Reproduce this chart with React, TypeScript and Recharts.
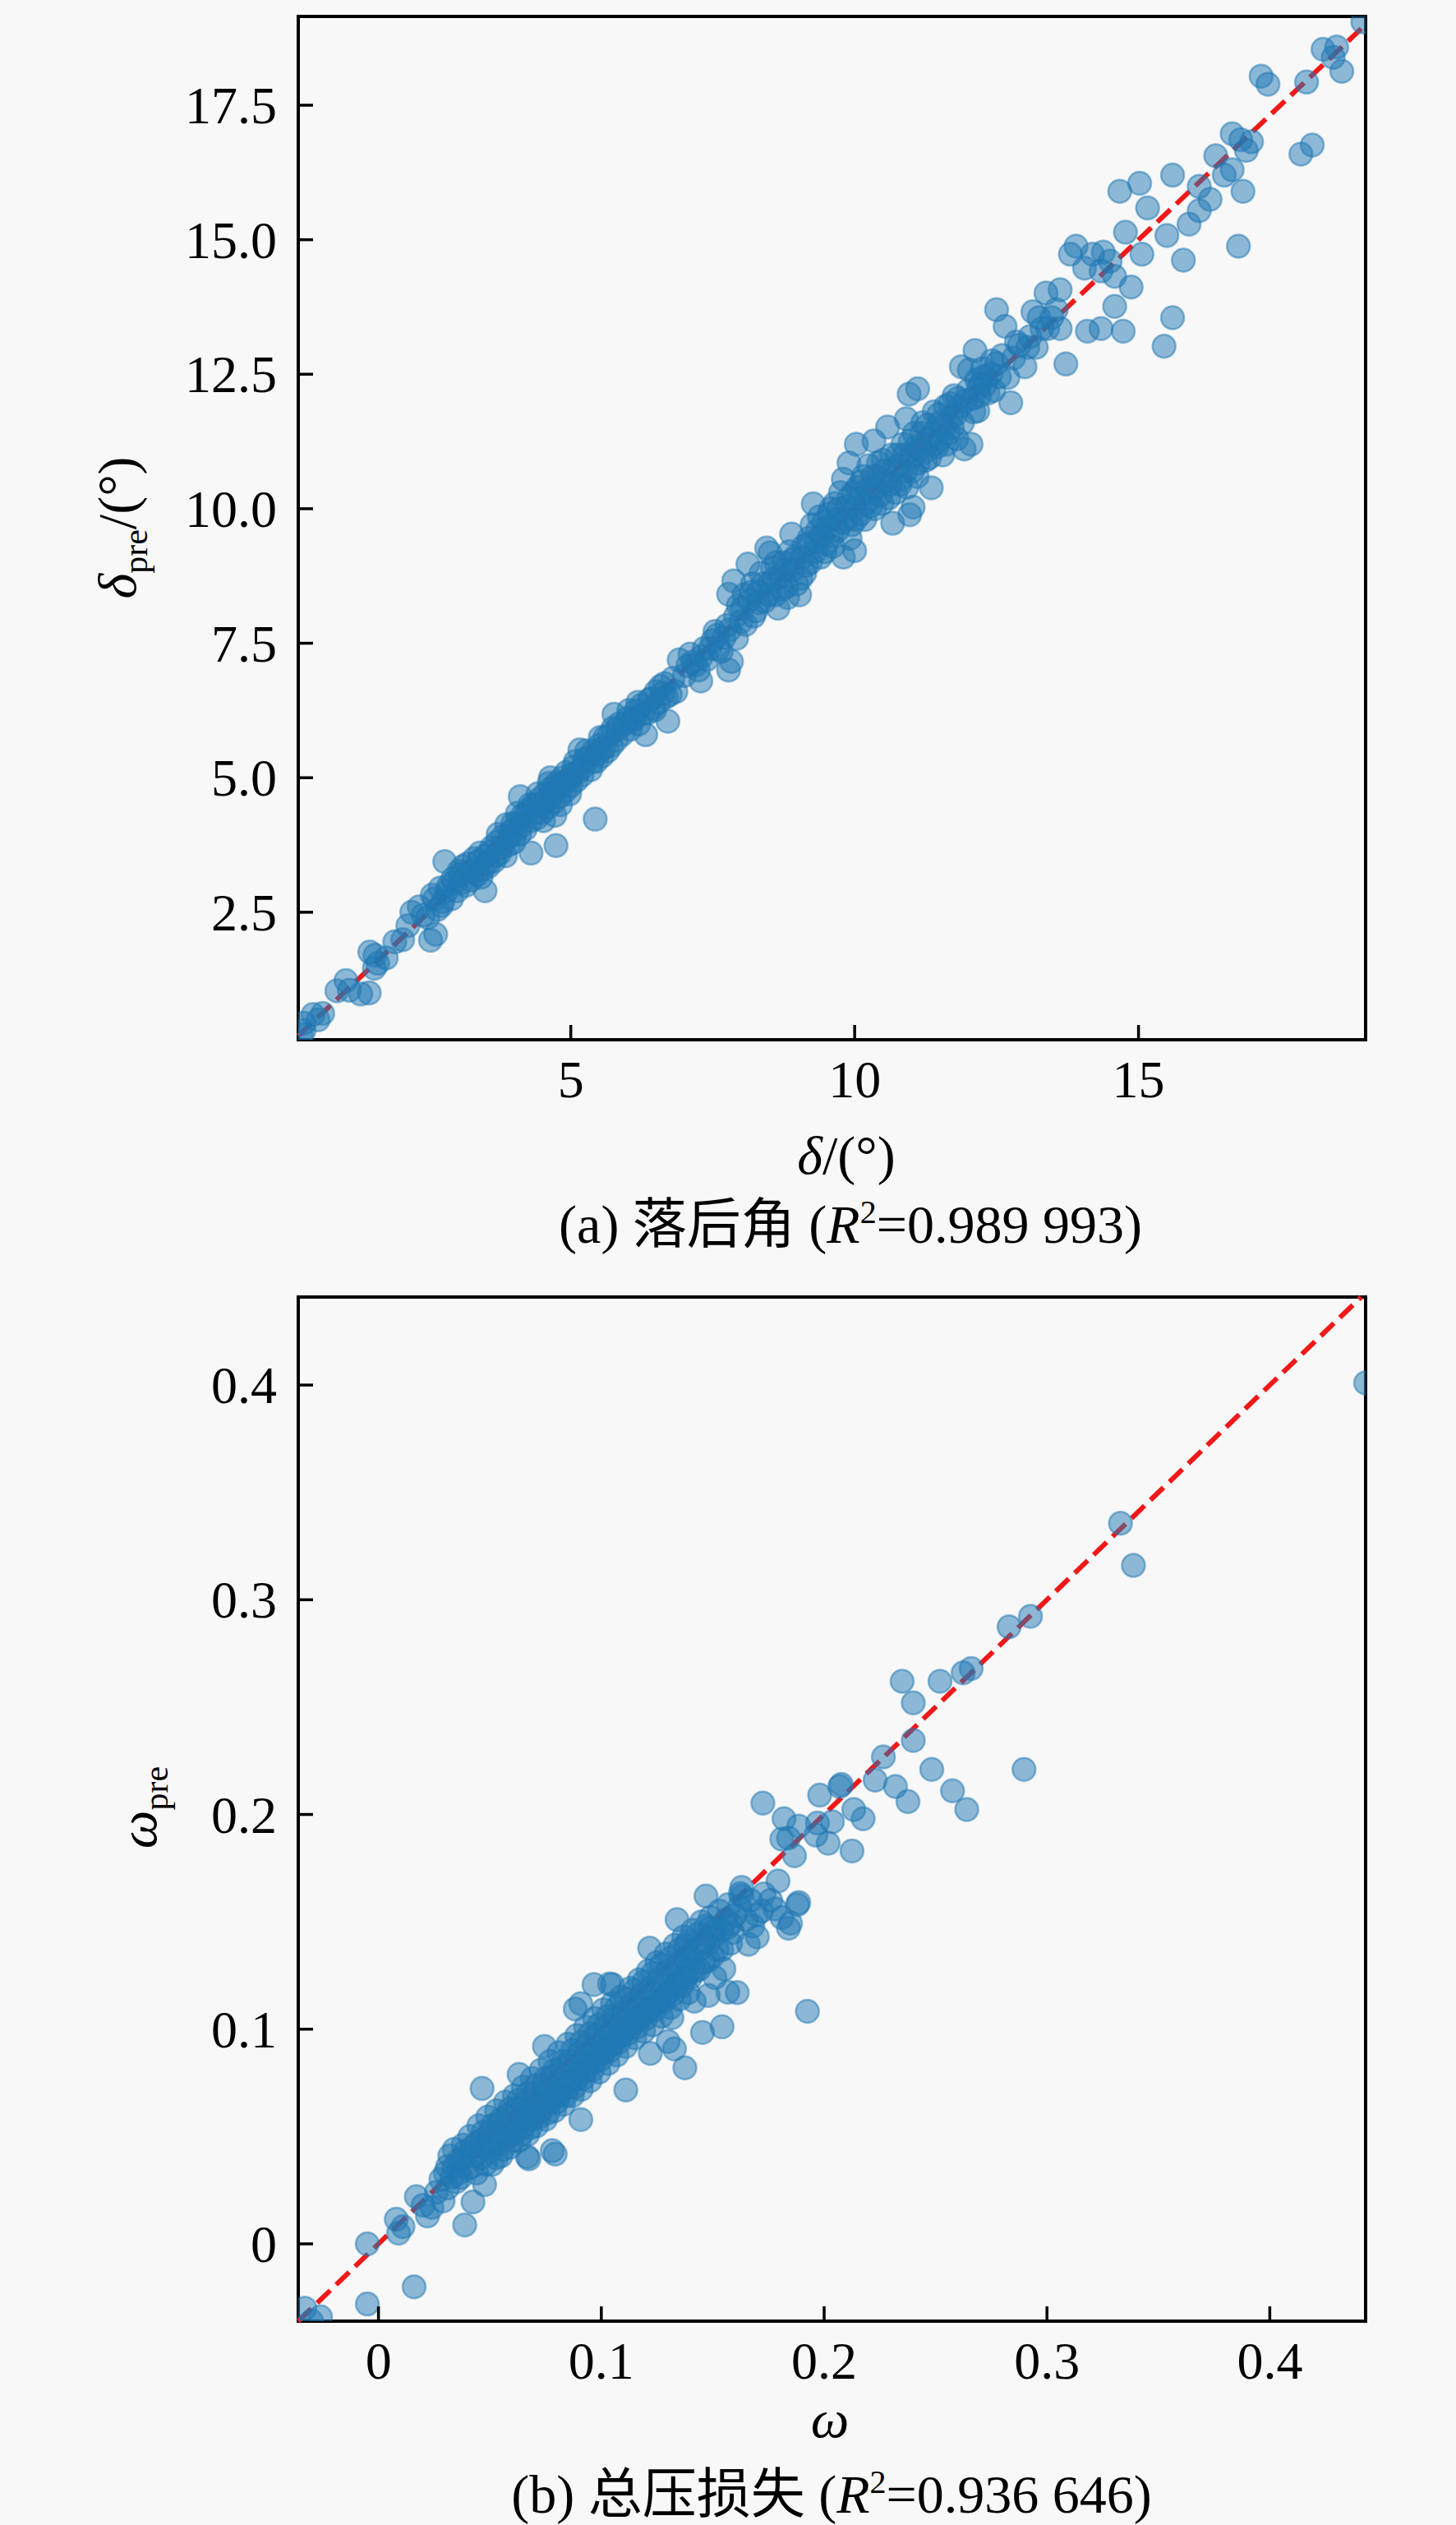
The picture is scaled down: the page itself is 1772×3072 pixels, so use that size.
import React from "react";
import { ScatterChart, Scatter, XAxis, YAxis, ReferenceLine, ReferenceArea, Label } from "recharts";

const FONT = '"Liberation Serif", "Noto Sans CJK SC", serif';
const BLUE = "#1f77b4";
const RED = "#f01818";

// (a) deviation angle: [measured δ, predicted δ_pre]
const deltaLow = [
  [0.25, 0.22], [0.3, 0.3], [0.3, 0.44], [0.46, 0.6], [0.55, 0.5], [0.63, 0.62], [0.88, 1.04], [1.04, 1.23],
  [1.1, 1.05], [1.3, 0.98], [1.45, 1.0], [1.46, 1.76], [1.55, 1.7], [1.54, 1.46], [1.6, 1.55], [1.75, 1.65],
  [1.9, 1.95], [2.04, 1.99], [2.13, 2.25], [2.2, 2.5], [2.33, 2.6], [2.48, 2.4], [2.53, 1.98], [2.62, 2.09],
  [2.4, 2.45], [2.56, 2.82], [2.65, 2.55], [2.7, 2.95], [2.75, 2.7], [2.78, 3.44], [2.85, 3.0], [2.9, 2.75],
  [2.95, 3.05], [3.0, 2.9], [3.03, 3.26], [3.05, 3.2], [3.1, 3.35], [3.15, 3.0], [3.2, 3.25], [3.25, 3.1],
  [3.3, 3.5], [3.35, 3.2], [3.4, 3.6], [3.45, 3.3], [3.49, 2.9], [3.5, 3.55], [3.55, 3.35], [3.6, 3.7],
  [3.65, 3.45], [3.7, 3.8], [3.75, 3.6], [3.8, 3.9], [3.85, 3.55], [3.87, 4.13], [3.9, 3.75], [3.95, 4.0],
  [4.0, 3.8], [4.05, 4.15], [4.06, 4.34], [4.1, 3.95], [4.11, 4.65], [4.15, 4.3], [4.2, 4.05], [4.25, 4.4],
  [4.3, 3.6], [4.3, 4.2], [4.35, 4.5], [4.4, 4.25], [4.45, 4.6], [4.5, 4.35], [4.55, 4.7], [4.6, 4.45],
  [4.64, 5.0], [4.65, 4.8], [4.7, 4.55], [4.74, 3.74], [4.75, 4.9], [4.8, 4.65], [4.85, 5.0], [4.9, 4.75],
  [4.95, 4.95],
  [2.6, 2.75], [2.72, 2.62], [2.82, 2.9], [2.92, 3.12], [3.08, 3.05], [3.18, 3.4], [3.28, 3.25], [3.38, 3.45],
  [3.42, 3.15], [3.52, 3.4], [3.58, 3.62], [3.68, 3.55], [3.72, 3.95], [3.78, 3.7], [3.92, 3.9], [3.98, 4.15],
  [4.02, 3.95], [4.12, 4.1], [4.22, 4.35], [4.28, 4.5], [4.38, 4.35], [4.42, 4.7], [4.48, 4.5], [4.52, 4.2],
  [4.58, 4.6], [4.62, 4.9], [4.68, 4.7], [4.72, 4.3], [4.78, 4.85], [4.82, 4.5], [4.88, 4.9], [4.92, 5.1],
  [4.98, 4.7],
];

const deltaMid = [
  [5.0, 4.85], [5.05, 5.2], [5.1, 4.95], [5.16, 5.52], [5.2, 5.05], [5.25, 5.35], [5.31, 5.37], [5.35, 5.15],
  [5.4, 5.5], [5.43, 4.23], [5.45, 5.3], [5.5, 5.6], [5.55, 5.4], [5.6, 5.75], [5.65, 5.5], [5.74, 5.92],
  [5.76, 6.18], [5.8, 5.7], [5.85, 6.0], [5.9, 5.8], [6.0, 6.1], [6.05, 5.9], [6.09, 6.07], [6.15, 6.25],
  [6.2, 6.0], [6.25, 6.35], [6.32, 5.8], [6.35, 6.2], [6.42, 6.47], [6.48, 6.26], [6.5, 6.6], [6.55, 6.4],
  [6.62, 6.57], [6.65, 6.75], [6.71, 6.05], [6.75, 6.55], [6.91, 7.19], [7.0, 6.9], [7.06, 7.08], [7.1, 7.3],
  [7.2, 7.1], [7.25, 7.0], [7.29, 6.8], [7.35, 7.4], [7.4, 7.2], [7.5, 7.55], [7.54, 7.72], [7.6, 7.4],
  [7.7, 7.6], [7.75, 7.83], [7.78, 7.0], [7.83, 7.16], [7.92, 7.59], [7.78, 8.41], [7.87, 8.66], [7.95, 8.2],
  [8.0, 7.9], [8.05, 8.4], [8.12, 8.97], [8.15, 8.3], [8.2, 8.6], [8.26, 8.1], [8.3, 8.45], [8.35, 8.8],
  [8.41, 8.28], [8.45, 9.27], [8.5, 8.6], [8.51, 9.18], [8.55, 8.9], [8.6, 8.4], [8.65, 8.15], [8.7, 8.75],
  [8.75, 9.0], [8.8, 8.55], [8.85, 9.2], [8.89, 9.53], [8.9, 8.85], [8.95, 9.1], [9.03, 8.4], [9.05, 8.7],
  [9.1, 9.3], [9.15, 8.95], [9.2, 9.45], [9.27, 10.09], [9.3, 9.2], [9.35, 9.6], [9.4, 9.1], [9.45, 9.75],
  [9.5, 9.35],
  [5.02, 5.05], [5.08, 5.3], [5.12, 5.1], [5.22, 5.2], [5.28, 5.5], [5.38, 5.3], [5.48, 5.45], [5.52, 5.75],
  [5.58, 5.55], [5.68, 5.8], [5.72, 5.6], [5.82, 5.9], [5.95, 6.0], [6.02, 6.25], [6.12, 6.1], [6.18, 6.4],
  [6.28, 6.2], [6.38, 6.45], [6.45, 6.3], [6.58, 6.7], [6.68, 6.5], [6.8, 6.85], [6.85, 6.6],
  [7.15, 7.15], [7.3, 7.25], [7.45, 7.4], [7.58, 7.65], [7.65, 7.35], [7.8, 7.75], [7.9, 8.0], [8.02, 8.15],
  [8.08, 7.85], [8.18, 8.45], [8.22, 8.0], [8.32, 8.25], [8.38, 8.6], [8.48, 8.4], [8.58, 8.7], [8.62, 9.0],
  [8.72, 8.5], [8.78, 8.85], [8.82, 8.35], [8.92, 9.05], [8.98, 8.6], [9.08, 9.1], [9.12, 8.8], [9.18, 9.35],
  [9.22, 9.0], [9.25, 9.7], [9.32, 9.4], [9.38, 9.85], [9.42, 9.5], [9.48, 9.2],
];

const deltaHigh = [
  [9.55, 9.9], [9.6, 9.5], [9.65, 10.1], [9.7, 9.6], [9.75, 10.3], [9.8, 9.1], [9.8, 10.55], [9.85, 9.8],
  [9.9, 10.85], [9.9, 10.2], [9.95, 9.7], [10.0, 10.0], [10.0, 9.22], [10.03, 11.2], [10.05, 10.4], [10.1, 9.9],
  [10.15, 10.6], [10.2, 10.1], [10.25, 10.8], [10.3, 10.3], [10.34, 11.26], [10.35, 10.0], [10.4, 10.6],
  [10.45, 10.25], [10.5, 10.9], [10.55, 10.5], [10.58, 11.52], [10.6, 10.2], [10.67, 9.73], [10.7, 10.75],
  [10.75, 11.0], [10.8, 10.45], [10.85, 11.2], [10.9, 10.7], [10.91, 11.67], [10.96, 12.13], [10.97, 9.89],
  [11.0, 10.95], [11.03, 10.03], [11.05, 11.4], [11.1, 10.6], [11.11, 12.23], [11.15, 11.1], [11.2, 11.6],
  [11.25, 10.9], [11.3, 11.3], [11.35, 10.39], [11.4, 11.8], [11.45, 11.15], [11.5, 11.6], [11.55, 11.0],
  [11.6, 11.9], [11.65, 11.4], [11.7, 11.7], [11.75, 12.1], [11.8, 11.3], [11.85, 11.9], [11.88, 12.64],
  [11.93, 11.11], [12.0, 12.2], [12.02, 12.58], [12.05, 11.2], [12.1, 11.8], [12.12, 12.94], [12.15, 12.4],
  [12.17, 11.82], [12.2, 12.1], [12.22, 12.33], [12.25, 12.6], [12.3, 12.3], [12.4, 12.5], [12.45, 12.2],
  [12.5, 12.7],
  [9.52, 9.65], [9.58, 10.0], [9.62, 9.3], [9.68, 9.8], [9.72, 10.0], [9.78, 9.75], [9.88, 10.05], [9.92, 9.45],
  [9.98, 10.3], [10.02, 9.8], [10.08, 10.2], [10.12, 10.5], [10.18, 9.8], [10.22, 10.35], [10.28, 10.05],
  [10.32, 10.6], [10.38, 10.4], [10.42, 10.85], [10.48, 10.1], [10.52, 10.7], [10.62, 10.45], [10.65, 11.0],
  [10.72, 10.3], [10.78, 10.8], [10.82, 10.55], [10.88, 11.0], [10.92, 10.4], [10.98, 11.25], [11.02, 10.7],
  [11.08, 11.15], [11.12, 10.85], [11.18, 11.4], [11.22, 11.05], [11.28, 11.55], [11.32, 10.95], [11.38, 11.4],
  [11.42, 11.2], [11.48, 11.75], [11.52, 11.3], [11.58, 11.55], [11.62, 11.2], [11.68, 11.95], [11.72, 11.5],
  [11.78, 11.75], [11.82, 12.05], [11.9, 11.6], [11.95, 12.0], [12.08, 12.05], [12.18, 12.25], [12.28, 12.45],
  [12.35, 12.15], [12.42, 12.75], [12.55, 12.45], [12.6, 12.85], [12.8, 12.8], [12.85, 13.1], [13.05, 13.0],
  [13.25, 13.55], [13.4, 13.35], [13.55, 13.7],
];

const deltaTop = [
  [12.5, 13.7], [12.65, 13.39], [12.7, 12.44], [12.75, 11.97], [12.9, 13.04], [13.0, 12.64], [13.09, 13.2],
  [13.14, 13.66], [13.2, 13.0], [13.3, 13.35], [13.37, 14.01], [13.47, 13.55], [13.62, 14.07], [13.62, 13.35],
  [13.72, 12.69], [13.8, 14.73], [13.9, 14.88], [14.05, 14.47], [14.1, 13.3], [14.19, 14.73], [14.34, 14.42],
  [14.34, 13.35], [14.38, 14.77], [14.5, 14.6], [14.58, 14.32], [14.58, 13.76], [14.67, 15.9], [14.73, 13.3],
  [14.77, 15.14], [14.87, 14.12], [15.02, 16.05], [15.06, 14.73], [15.16, 15.59], [15.45, 13.02], [15.5, 15.08],
  [15.6, 16.2], [15.6, 13.55], [15.79, 14.62], [15.89, 15.29], [16.07, 15.99], [16.07, 15.54], [16.26, 15.75],
  [16.36, 16.56], [16.51, 16.2], [16.65, 16.3], [16.65, 16.97], [16.76, 14.88], [16.8, 16.86], [16.84, 15.9],
  [16.9, 16.66], [16.99, 16.82], [17.16, 18.04], [17.28, 17.89], [17.86, 16.59], [17.96, 17.93], [18.06, 16.76],
  [18.25, 18.54], [18.43, 18.39], [18.49, 18.58], [18.58, 18.13], [18.95, 19.05],
];

// (b) total pressure loss: [measured ω, predicted ω_pre]
const omegaLow = [
  [-0.033, -0.03], [-0.026, -0.034], [-0.03, -0.036], [-0.005, -0.028], [0.016, -0.02], [-0.005, 0.0],
  [0.008, 0.0115], [0.011, 0.008], [0.009, 0.005], [0.017, 0.022], [0.022, 0.013], [0.024, 0.017],
  [0.02, 0.018], [0.026, 0.024], [0.028, 0.03], [0.029, 0.02],
];

const omegaCore = [
  [0.03, 0.033], [0.031, 0.026], [0.032, 0.041], [0.034, 0.036], [0.035, 0.029], [0.034, 0.044],
  [0.038, 0.04], [0.037, 0.031], [0.0387, 0.0088], [0.038, 0.046], [0.042, 0.045], [0.042, 0.036],
  [0.0424, 0.0195], [0.041, 0.05], [0.046, 0.048], [0.046, 0.04], [0.0465, 0.0724], [0.0476, 0.0276],
  [0.045, 0.055], [0.05, 0.052], [0.05, 0.043], [0.049, 0.059], [0.051, 0.037], [0.054, 0.056],
  [0.054, 0.047], [0.053, 0.062], [0.055, 0.041], [0.058, 0.06], [0.058, 0.05], [0.057, 0.066],
  [0.059, 0.045], [0.062, 0.063], [0.062, 0.054], [0.0631, 0.0789], [0.063, 0.048], [0.061, 0.069],
  [0.066, 0.066], [0.066, 0.058], [0.0668, 0.0406], [0.067, 0.051], [0.065, 0.073], [0.07, 0.07],
  [0.07, 0.061], [0.069, 0.077], [0.071, 0.055], [0.0675, 0.0396], [0.074, 0.074], [0.074, 0.065],
  [0.0745, 0.092], [0.075, 0.058], [0.073, 0.081], [0.078, 0.078], [0.078, 0.068], [0.078, 0.0434],
  [0.0793, 0.0418], [0.077, 0.085], [0.079, 0.062], [0.082, 0.082], [0.082, 0.072], [0.081, 0.089],
  [0.083, 0.065], [0.0883, 0.1094], [0.086, 0.085], [0.086, 0.076], [0.085, 0.093], [0.087, 0.069],
  [0.09, 0.089], [0.09, 0.08], [0.0908, 0.1119], [0.0908, 0.0579], [0.091, 0.072], [0.089, 0.097],
  [0.094, 0.093], [0.094, 0.084], [0.093, 0.101], [0.095, 0.076], [0.0967, 0.1208], [0.098, 0.097],
  [0.098, 0.088], [0.097, 0.105], [0.099, 0.08], [0.102, 0.101], [0.102, 0.091], [0.1037, 0.1211],
  [0.101, 0.109], [0.103, 0.084], [0.105, 0.1208], [0.106, 0.105], [0.106, 0.095], [0.107, 0.088],
  [0.105, 0.112], [0.11, 0.108], [0.11, 0.099], [0.111, 0.0717], [0.109, 0.115], [0.111, 0.092],
  [0.114, 0.112], [0.114, 0.103], [0.113, 0.119], [0.115, 0.096], [0.118, 0.116], [0.118, 0.106],
  [0.117, 0.123], [0.119, 0.099], [0.1217, 0.1377], [0.122, 0.0887], [0.122, 0.119], [0.122, 0.11],
  [0.121, 0.127], [0.123, 0.102], [0.126, 0.123], [0.126, 0.113], [0.125, 0.131], [0.127, 0.106],
  [0.13, 0.0943], [0.13, 0.127], [0.13, 0.117], [0.129, 0.135], [0.131, 0.11], [0.134, 0.151],
  [0.1328, 0.0908], [0.1317, 0.1054], [0.134, 0.13], [0.134, 0.121], [0.133, 0.139], [0.135, 0.114],
  [0.1375, 0.082], [0.138, 0.139], [0.138, 0.133], [0.138, 0.124], [0.137, 0.143], [0.139, 0.117],
  [0.1417, 0.113], [0.1454, 0.0985], [0.142, 0.137], [0.142, 0.127], [0.141, 0.146], [0.147, 0.162],
  [0.149, 0.147], [0.148, 0.1157], [0.146, 0.14], [0.146, 0.131], [0.145, 0.15], [0.1542, 0.1011],
  [0.15, 0.143], [0.15, 0.134], [0.151, 0.124], [0.149, 0.152], [0.155, 0.128], [0.1568, 0.1172],
  [0.154, 0.146], [0.154, 0.137], [0.153, 0.155], [0.161, 0.117], [0.158, 0.149], [0.158, 0.14],
  [0.157, 0.158], [0.163, 0.162], [0.163, 0.166], [0.16, 0.153], [0.1568, 0.1475], [0.166, 0.1395],
  [0.1624, 0.1632], [0.1697, 0.1532], [0.172, 0.155], [0.1793, 0.169], [0.1849, 0.1494], [0.1886, 0.159],
  [0.184, 0.147], [0.188, 0.158], [0.168, 0.148], [0.176, 0.16], [0.181, 0.152], [0.17, 0.143],
];

const omegaFill = [
  [0.031, 0.036], [0.033, 0.031], [0.036, 0.039], [0.036, 0.033], [0.039, 0.043], [0.04, 0.035],
  [0.043, 0.041], [0.044, 0.047], [0.044, 0.033], [0.047, 0.052], [0.048, 0.045], [0.048, 0.037],
  [0.051, 0.055], [0.052, 0.048], [0.053, 0.04], [0.055, 0.058], [0.056, 0.052], [0.056, 0.044],
  [0.059, 0.063], [0.06, 0.056], [0.06, 0.048], [0.061, 0.052], [0.063, 0.067], [0.064, 0.059],
  [0.064, 0.051], [0.065, 0.055], [0.067, 0.07], [0.068, 0.063], [0.068, 0.054], [0.069, 0.058],
  [0.071, 0.074], [0.072, 0.066], [0.072, 0.059], [0.073, 0.062], [0.075, 0.077], [0.076, 0.07],
  [0.076, 0.061], [0.077, 0.066], [0.079, 0.081], [0.08, 0.074], [0.08, 0.066], [0.081, 0.069],
  [0.083, 0.085], [0.084, 0.078], [0.084, 0.069], [0.085, 0.073], [0.087, 0.09], [0.088, 0.082],
  [0.088, 0.073], [0.089, 0.077], [0.091, 0.094], [0.092, 0.086], [0.092, 0.077], [0.093, 0.081],
  [0.095, 0.098], [0.096, 0.09], [0.096, 0.081], [0.097, 0.085], [0.099, 0.102], [0.1, 0.094],
  [0.1, 0.086], [0.101, 0.089], [0.103, 0.106], [0.104, 0.098], [0.104, 0.09], [0.105, 0.093],
  [0.107, 0.11], [0.108, 0.102], [0.108, 0.094], [0.109, 0.097], [0.111, 0.114], [0.112, 0.106],
  [0.112, 0.098], [0.113, 0.101], [0.115, 0.118], [0.116, 0.11], [0.116, 0.101], [0.117, 0.105],
  [0.119, 0.122], [0.12, 0.113], [0.12, 0.105], [0.121, 0.108], [0.123, 0.126], [0.124, 0.117],
  [0.124, 0.109], [0.125, 0.112], [0.127, 0.13], [0.128, 0.121], [0.128, 0.113], [0.129, 0.116],
  [0.131, 0.133], [0.132, 0.125], [0.132, 0.116], [0.133, 0.12], [0.135, 0.137], [0.136, 0.129],
  [0.136, 0.12], [0.137, 0.124], [0.139, 0.141], [0.14, 0.133], [0.14, 0.124], [0.141, 0.128],
  [0.143, 0.144], [0.144, 0.137], [0.144, 0.128], [0.147, 0.148], [0.148, 0.14], [0.148, 0.132],
  [0.151, 0.146], [0.152, 0.137], [0.156, 0.151], [0.159, 0.145], [0.162, 0.157], [0.165, 0.151],
  [0.167, 0.16], [0.173, 0.163], [0.178, 0.156],
];

const omegaUpper = [
  [0.1725, 0.2053], [0.1925, 0.1083], [0.2125, 0.183], [0.2175, 0.198], [0.207, 0.213], [0.197, 0.196],
  [0.184, 0.189], [0.182, 0.198], [0.1886, 0.1946], [0.181, 0.1885], [0.1963, 0.1904], [0.2037, 0.1966],
  [0.1867, 0.1808], [0.2018, 0.1866], [0.2077, 0.214], [0.198, 0.209], [0.2133, 0.2023], [0.2229, 0.216],
  [0.2266, 0.2268], [0.232, 0.213], [0.2376, 0.206], [0.2483, 0.221], [0.2576, 0.211], [0.264, 0.2023],
  [0.2897, 0.221], [0.24, 0.2345], [0.24, 0.252], [0.235, 0.262], [0.252, 0.262], [0.2624, 0.266],
  [0.266, 0.268], [0.283, 0.2874], [0.2926, 0.2923], [0.333, 0.3356], [0.3388, 0.316], [0.443, 0.401],
];

const deltaDomainX = [0.2, 19.0];
const deltaDomainY = [0.13, 19.15];
const deltaTicksX = [5, 10, 15];
const deltaTicksY = [2.5, 5, 7.5, 10, 12.5, 15, 17.5];
const deltaDiag = [0.2, 19.0];

const omegaDomainX = [-0.036, 0.443];
const omegaDomainY = [-0.036, 0.441];
const omegaTicks = [0, 0.1, 0.2, 0.3, 0.4];
const omegaDiag = [-0.036, 0.441];

const toPoints = (pairs: number[][]) => pairs.map(([x, y]) => ({ x, y }));

const Dot = (p: any) => (
  <circle cx={p.cx} cy={p.cy} r={14} fill={BLUE} fillOpacity={0.5} stroke={BLUE} strokeOpacity={0.5} strokeWidth={2.5} />
);

const makeXTick = (fmt: (v: number) => string) => (p: any) => (
  <g>
    <line x1={p.x} x2={p.x} y1={p.y} y2={p.y - 18} stroke="#000" strokeWidth={3.5} />
    <text x={p.x} y={p.y + 70} textAnchor="middle" fontSize={64} fontFamily={FONT} fill="#000">
      {fmt(p.payload.value)}
    </text>
  </g>
);

const makeYTick = (fmt: (v: number) => string) => (p: any) => (
  <g>
    <line x1={p.x} x2={p.x + 18} y1={p.y} y2={p.y} stroke="#000" strokeWidth={3.5} />
    <text x={p.x - 26} y={p.y + 22} textAnchor="end" fontSize={64} fontFamily={FONT} fill="#000">
      {fmt(p.payload.value)}
    </text>
  </g>
);

const fmtOne = (v: number) => v.toFixed(1);
const fmtPlain = (v: number) => (v === 0 ? "0" : String(v));

const W = 1772;
const PLOT_LEFT = 363;
const PLOT_RIGHT = 110;

function Panel({
  height, top, bottom, domX, domY, ticksX, ticksY, fmtX, fmtY, diag, series, xLabel, yLabel, caption,
}: any) {
  return (
    <ScatterChart width={W} height={height} margin={{ top, right: PLOT_RIGHT, bottom: bottom - 1, left: PLOT_LEFT - 1 }}>
      <XAxis
        type="number" dataKey="x" domain={domX} ticks={ticksX} interval={0} allowDataOverflow
        height={1} tickSize={0} tickMargin={0} axisLine={false} tickLine={false} tick={makeXTick(fmtX)}
      >
        <Label content={() => <g>{xLabel}{caption}</g>} />
      </XAxis>
      <YAxis
        type="number" dataKey="y" domain={domY} ticks={ticksY} interval={0} allowDataOverflow
        width={1} tickSize={0} tickMargin={0} axisLine={false} tickLine={false} tick={makeYTick(fmtY)}
      >
        <Label content={() => yLabel} />
      </YAxis>
      {series.map((s: number[][], i: number) => (
        <Scatter key={i} data={toPoints(s)} shape={Dot} isAnimationActive={false} />
      ))}
      <ReferenceLine
        segment={[{ x: diag[0], y: diag[0] }, { x: diag[1], y: diag[1] }]}
        stroke={RED} strokeWidth={6} strokeDasharray="22 10" ifOverflow="visible"
      />
      <ReferenceArea
        x1={domX[0]} x2={domX[1]} y1={domY[0]} y2={domY[1]}
        fill="none" stroke="#000" strokeWidth={4} ifOverflow="visible"
      />
    </ScatterChart>
  );
}

const txt = { fontFamily: FONT, fill: "#000" } as const;

export default function App() {
  return (
    <div style={{ width: W, height: 3072, background: "#f8f8f8", position: "relative" }}>
      <style>{`body{margin:0;background:#f8f8f8}`}</style>
      <Panel
        height={1540} top={20} bottom={275}
        domX={deltaDomainX} domY={deltaDomainY} ticksX={deltaTicksX} ticksY={deltaTicksY}
        fmtX={fmtPlain} fmtY={fmtOne} diag={deltaDiag}
        series={[deltaLow, deltaMid, deltaHigh, deltaTop]}
        xLabel={
          <text x={1030} y={1428} textAnchor="middle" fontSize={66} {...txt}>
            <tspan fontStyle="italic">δ</tspan>/(°)
          </text>
        }
        caption={
          <text x={1035} y={1512} textAnchor="middle" fontSize={66} {...txt}>
            (a) 落后角 (<tspan fontStyle="italic">R</tspan>
            <tspan fontSize={40} dy={-24}>2</tspan>
            <tspan dy={24}>=0.989 993)</tspan>
          </text>
        }
        yLabel={
          <text x={165} y={642} textAnchor="middle" fontSize={66} transform="rotate(-90 165 642)" {...txt}>
            <tspan fontStyle="italic">δ</tspan>
            <tspan fontSize={42} dy={14}>pre</tspan>
            <tspan dy={-14}>/(°)</tspan>
          </text>
        }
      />
      <Panel
        height={1532} top={38} bottom={248}
        domX={omegaDomainX} domY={omegaDomainY} ticksX={omegaTicks} ticksY={omegaTicks}
        fmtX={fmtPlain} fmtY={fmtPlain} diag={omegaDiag}
        series={[omegaLow, omegaFill, omegaCore, omegaUpper]}
        xLabel={
          <text x={1010} y={1425} textAnchor="middle" fontSize={66} {...txt}>
            <tspan fontStyle="italic">ω</tspan>
          </text>
        }
        caption={
          <text x={1012} y={1517} textAnchor="middle" fontSize={66} {...txt}>
            (b) 总压损失 (<tspan fontStyle="italic">R</tspan>
            <tspan fontSize={40} dy={-24}>2</tspan>
            <tspan dy={24}>=0.936 646)</tspan>
          </text>
        }
        yLabel={
          <text x={190} y={659} textAnchor="middle" fontSize={66} transform="rotate(-90 190 659)" {...txt}>
            <tspan fontStyle="italic">ω</tspan>
            <tspan fontSize={42} dy={14}>pre</tspan>
          </text>
        }
      />
    </div>
  );
}
